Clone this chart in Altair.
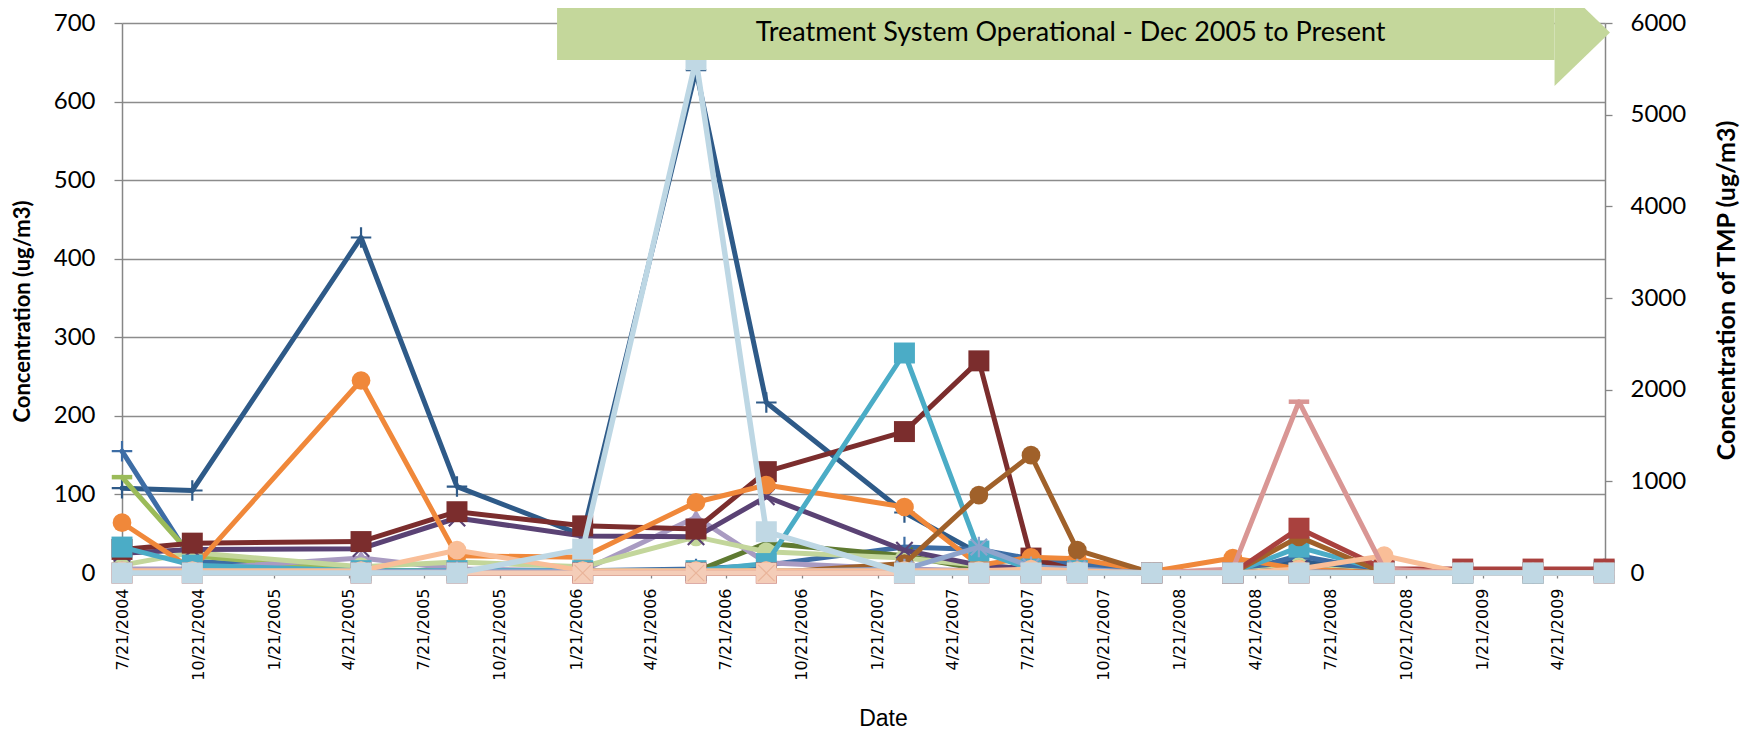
import altair as alt
import pandas as pd

# ---------------- data ----------------
dates = ["2004-07-21", "2004-10-14", "2005-05-06", "2005-08-30", "2006-01-29",
         "2006-06-15", "2006-09-08", "2007-02-22", "2007-05-23", "2007-07-25",
         "2007-09-19", "2007-12-18", "2008-03-25", "2008-06-13", "2008-09-24",
         "2008-12-28", "2009-03-23", "2009-06-17"]

s_a = [108, 105, 427, 110, 48, 640, 217, 77, 25, 15, 8, 0, 0, 15, 2, 2, 2, 5]
s_b = [155, 15, 3, 3, 3, 5, 10, 33, 30, 18, 12, 0, 0, 22, 2, 0, 0, 3]
s_c = [64, 5, 245, 22, 20, 90, 112, 84, 10, 20, 18, 2, 19, 5, 0, 0, 0, 0]
s_d = [30, 38, 40, 78, 60, 56, 129, 180, 270, 19, 3, 0, 0, 0, 0, 0, 0, 0]
s_e = [0, 0, 0, 0, 0, 0, 0, 0, 0, 0, 0, 0, 0, 57, 5, 5, 5, 5]
s_f = [25, 30, 31, 70, 47, 46, 97, 29, 10, 5, 2, 0, 0, 5, 0, 0, 0, 0]
s_g = [33, 10, 3, 3, 3, 3, 12, 280, 28, 5, 3, 0, 0, 33, 3, 0, 0, 3]
s_h = [10, 26, 8, 14, 8, 46, 27, 19, 10, 5, 3, 0, 0, 8, 0, 0, 0, 0]
s_i = [122, 22, 3, 3, 3, 3, 3, 3, 3, 3, 3, 0, 0, 3, 0, 0, 0, 0]
s_j = [5, 5, 19, 5, 3, 71, 13, 5, 3, 2, 2, 0, 0, 2, 0, 0, 0, 0]
s_k = [3, 3, 3, 3, 3, 2, 38, 22, 5, 3, 2, 0, 0, 0, 0, 0, 0, 0]
s_l = [0, 0, 0, 0, 0, 0, 0, 12, 99, 150, 29, 0, 0, 46, 0, 0, 0, 0]
s_m = [0, 0, 0, 0, 0, 0, 0, 0, 0, 0, 0, 0, 5, 218, 5, 0, 0, 0]
s_n = [3, 3, 3, 29, 3, 3, 3, 3, 3, 5, 3, 0, 0, 5, 22, 0, 0, 0]
s_o = [2, 2, 2, 2, 2, 2, 2, 5, 33, 8, 5, 0, 0, 2, 0, 0, 0, 0]
s_p = [0, 0, 0, 0, 0, 0, 0, 0, 0, 0, 0, 0, 0, 0, 0, 0, 0, 0]
tmp = [0, 0, 0, 0, 260, 5600, 450, 0, 0, 0, 0, 0, 0, 0, 0, 0, 0, 0]

tick_dates = ["2004-07-21", "2004-10-21", "2005-01-21", "2005-04-21", "2005-07-21",
              "2005-10-21", "2006-01-21", "2006-04-21", "2006-07-21", "2006-10-21",
              "2007-01-21", "2007-04-21", "2007-07-21", "2007-10-21", "2008-01-21",
              "2008-04-21", "2008-07-21", "2008-10-21", "2009-01-21", "2009-04-21"]
left_ticks = [0, 100, 200, 300, 400, 500, 600, 700]
right_ticks = [0, 1000, 2000, 3000, 4000, 5000, 6000]

banner_label = "Treatment System Operational - Dec 2005 to Present"

# ---------------- styles ----------------
series_style = [
    ("a", s_a, "#2E5A88", "plus"),
    ("b", s_b, "#3D6DA5", "plus"),
    ("k", s_k, "#5F7A31", "xmark"),
    ("i", s_i, "#9BBB59", "dash"),
    ("j", s_j, "#A99BC2", "triangle-up"),
    ("h", s_h, "#C3D69B", "circle"),
    ("f", s_f, "#5A4274", "xmark"),
    ("d", s_d, "#7B2D2D", "square"),
    ("c", s_c, "#F0883A", "circle"),
    ("g", s_g, "#4BACC6", "square"),
    ("l", s_l, "#A0612A", "circle"),
    ("e", s_e, "#A9413E", "square"),
    ("o", s_o, "#8EA4CC", "star"),
    ("n", s_n, "#F9BE98", "circle"),
    ("m", s_m, "#D99694", "dash"),
    ("p", s_p, "#F4CDB8", "xsquare"),
]

PATHS = {
    "plus": "M-1,0L1,0M0,-1L0,1",
    "xmark": "M-0.8,-0.8L0.8,0.8M-0.8,0.8L0.8,-0.8",
    "star": "M-0.8,-0.8L0.8,0.8M-0.8,0.8L0.8,-0.8M0,-1L0,1",
    "dash": "M-1,-0.22L1,-0.22L1,0.22L-1,0.22Z",
}

def tstr(d):
    return d + "T00:00:00"

rows = []
for name, vals, _, _ in series_style:
    for d, v in zip(dates, vals):
        rows.append({"s": name, "date": tstr(d), "value": v})
df_left = pd.DataFrame(rows)
df_tmp = pd.DataFrame({"date": [tstr(d) for d in dates], "value": tmp})

def dt(s):
    y, m, d = (int(p) for p in s.split("-"))
    return alt.DateTime(year=y, month=m, date=d)

AX = "#868686"
xscale = alt.Scale(domain=[dt("2004-07-21"), dt("2009-06-18")], nice=False)
xaxis = alt.Axis(values=[dt(t) for t in tick_dates], format="%-m/%-d/%Y", formatType="time",
                 labelAngle=270, labelAlign="right", labelBaseline="middle",
                 labelFont="DejaVu Sans", labelFontSize=16, labelColor="#000000",
                 labelFlush=False, labelOverlap=False, labelPadding=10,
                 tickSize=5, tickColor=AX, tickWidth=1.3, domainColor=AX, domainWidth=1.3,
                 grid=False, title="Date", titleFont="Liberation Sans", titleFontSize=23,
                 titleFontWeight="normal", titleColor="#000000", titlePadding=27, titleX=761)

yl_scale = alt.Scale(domain=[0, 700], nice=False)
yl_axis = alt.Axis(values=left_ticks, labelFont="Lato", labelFontSize=24, labelColor="#000000",
                   tickSize=8, tickColor=AX, tickWidth=1.3, domainColor=AX, domainWidth=1.5,
                   grid=True, gridColor="#8C8C8C", gridWidth=1.4, labelPadding=19,
                   title="Concentration (ug/m3)", titleFont="Lato", titleFontSize=22,
                   titleFontWeight="bold", titleColor="#000000", titlePadding=19,
                   titleAngle=270, titleY=288)

yr_scale = alt.Scale(domain=[0, 6000], nice=False)
yr_axis = alt.Axis(orient="right", values=right_ticks, format="d", labelFont="Lato",
                   labelFontSize=24, labelColor="#000000", tickSize=7, tickColor=AX,
                   tickWidth=1.3, domainColor=AX, domainWidth=1.5, grid=False, labelPadding=18,
                   title="Concentration of TMP (ug/m3)", titleFont="Lato", titleFontSize=25,
                   titleFontWeight="bold", titleColor="#000000", titlePadding=54,
                   titleAngle=270, titleY=267)

X = alt.X("date:T", scale=xscale, axis=xaxis)
base_l = alt.Chart(df_left).encode(x=X, y=alt.Y("value:Q", scale=yl_scale, axis=yl_axis))

left_layers = []
for name, _, color, marker in series_style:
    src = base_l.transform_filter(alt.datum.s == name)
    left_layers.append(src.mark_line(color=color, strokeWidth=5, strokeJoin="round", strokeCap="round"))
    if marker in ("square", "circle", "triangle-up"):
        size = {"square": 440, "circle": 350, "triangle-up": 340}[marker]
        left_layers.append(src.mark_point(shape=marker, filled=True, color=color, size=size, opacity=1))
    elif marker == "dash":
        left_layers.append(src.mark_point(shape=PATHS["dash"], filled=True, color=color, size=420, opacity=1))
    elif marker == "xsquare":
        left_layers.append(src.mark_point(shape="square", filled=True, color=color, size=420, opacity=1))
        left_layers.append(src.mark_point(shape=PATHS["xmark"], filled=False, color="#E9B49A",
                                          size=420, strokeWidth=1.2, opacity=1))
    else:
        left_layers.append(src.mark_point(shape=PATHS[marker], filled=False, color=color, size=420,
                                          strokeWidth=2.2, opacity=1))
left = alt.layer(*left_layers)

# ---------------- right axis (TMP) + banner ----------------
base_r = alt.Chart(df_tmp).encode(x=X, y=alt.Y("value:Q", scale=yr_scale, axis=yr_axis))
tmp_line = base_r.mark_line(color="#BDD7E4", strokeWidth=5.5, strokeJoin="round")
tmp_pts = base_r.mark_point(shape="square", filled=True, color="#C0D8E4", size=440, opacity=1)

BANNER_START = "2005-12-29"
BANNER_END = "2009-04-18"
BANNER_TIP = "2009-06-24"
BANNER_TEXT_AT = "2007-09-11"
banner_rect_df = pd.DataFrame({"x0": [tstr(BANNER_START)], "x1": [tstr(BANNER_END)],
                               "y0": [6196], "y1": [5596]})
banner_head_df = pd.DataFrame({"x0": [tstr(BANNER_END), tstr(BANNER_TIP)],
                               "y0": [6480, 5896], "y1": [5313, 5896]})
banner_text_df = pd.DataFrame({"x0": [tstr(BANNER_TEXT_AT)], "y0": [5896], "t": [banner_label]})

GREEN = "#C4D79B"
Xb = alt.X("x0:T", scale=xscale, axis=xaxis)
Yb = alt.Y("y0:Q", scale=yr_scale, axis=yr_axis)
banner_rect = alt.Chart(banner_rect_df).mark_rect(color=GREEN, opacity=1).encode(
    x=Xb, x2="x1:T", y=Yb, y2="y1:Q")
banner_head = alt.Chart(banner_head_df).mark_area(color=GREEN, opacity=1).encode(
    x=Xb, y=Yb, y2="y1:Q")
banner_text = alt.Chart(banner_text_df).mark_text(font="Lato", fontSize=27, color="#000000",
                                                   align="center", baseline="middle").encode(
    x=Xb, y=Yb, text="t:N")

right = alt.layer(tmp_line, tmp_pts, banner_rect, banner_head, banner_text)

chart = alt.layer(left, right).resolve_scale(y="independent").properties(
    width=1483, height=550,
    autosize=alt.AutoSizeParams(type="none"),
    padding={"left": 114, "top": 15, "right": 140, "bottom": 158},
    background="white",
).configure_view(stroke=None)

chart.save("out.html", embed_options={"renderer": "svg", "actions": False})
